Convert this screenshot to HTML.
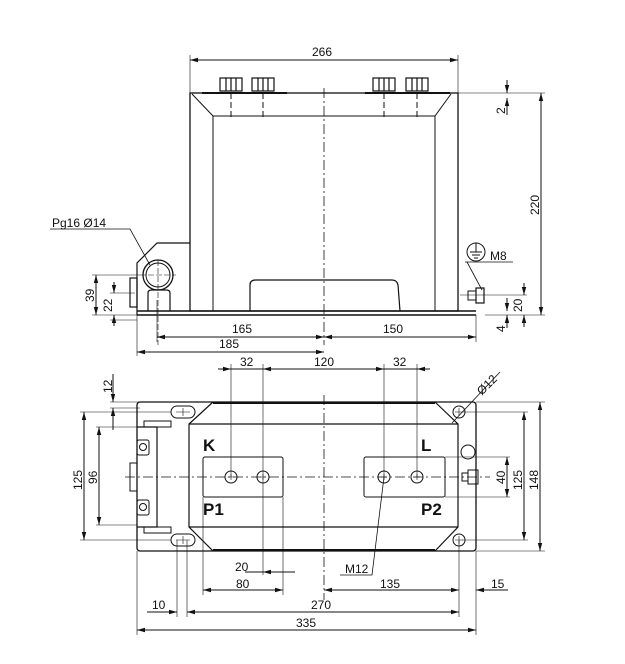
<!DOCTYPE html>
<html><head><style>body{margin:0;background:#fff}svg{display:block}text{font-family:"Liberation Sans",sans-serif;font-size:12px;fill:#111}</style></head><body>
<svg width="625" height="664" viewBox="0 0 625 664" xmlns="http://www.w3.org/2000/svg">
<defs><marker id="a" markerWidth="8" markerHeight="6" refX="8" refY="3" orient="auto-start-reverse"><path d="M0,0.8 L8,3 L0,5.2z" fill="#111"/></marker></defs>
<g stroke="#111" fill="none" stroke-width="1">
<!-- TOP VIEW -->
<line x1="190" y1="60" x2="458" y2="60" marker-start="url(#a)" marker-end="url(#a)"/>
<line x1="190" y1="55" x2="190" y2="93" stroke-width=".6"/><line x1="458" y1="55" x2="458" y2="93" stroke-width=".6"/>
<rect x="190" y="93" width="268" height="218" stroke-width="1.3"/>
<path d="M192 94 L213 116 L435 116 L451 94 M213 116 V311 M435 116 V311"/>
<path d="M202 93 h85 M365 93 h85" stroke-width="2"/>
<g stroke-width="1.2">
<rect x="220" y="78" width="22" height="13"/><rect x="252" y="78" width="22" height="13"/><rect x="373" y="78" width="22" height="13"/><rect x="406" y="78" width="22" height="13"/>
<path d="M226 78v13M231 78v13M236 78v13M258 78v13M263 78v13M268 78v13M379 78v13M384 78v13M389 78v13M412 78v13M417 78v13M422 78v13"/>
</g>
<path d="M231 93V118M263 93V118M384 93V118M417 93V118" stroke-dasharray="6,3"/>
<line x1="324" y1="88" x2="324" y2="345" stroke-dasharray="10,3,2,3" stroke-width=".8"/>
<path d="M250 311 V285 Q250 280 256 280 H392 Q397 280 398 285 L400 311" stroke-width="1.2"/>
<path d="M137 311 H476 M137 315 H476" stroke-width="1.5"/>
<path d="M137 315 V263 L157 243 H190" stroke-width="1.2"/>
<circle cx="158" cy="275" r="15" stroke-width="1.3"/><circle cx="158" cy="275" r="12"/>
<path d="M148 311 V293 Q148 290 152 290 H166 Q170 290 170 293 V311" stroke-width="1.2"/>
<rect x="130" y="278" width="7" height="29" stroke-width="1.2"/>
<path d="M140 275 H176 M158 260 V345" stroke-width=".6" stroke-dasharray="6,2"/>
<path d="M50 229 H130 L150 265" stroke-width=".8"/>
<path d="M92 275 H140 M92 315 H137 M110 293 H135 M110 320 H137" stroke-width=".6"/>
<line x1="96" y1="275" x2="96" y2="315" marker-start="url(#a)" marker-end="url(#a)"/>
<line x1="114" y1="282" x2="114" y2="293" marker-end="url(#a)"/><line x1="114" y1="326" x2="114" y2="315" marker-end="url(#a)"/>
<circle cx="476" cy="252" r="9"/><path d="M476 243v9M470 252h12M472 255h8M474 258h4"/>
<path d="M465 262 H513 M467 262 L482 290" stroke-width=".8"/>
<rect x="476" y="288" width="8" height="15" stroke-width="1.2"/><rect x="468" y="291" width="8" height="9"/>
<path d="M460 295 H527 M458 93 H545 M485 315 H545" stroke-width=".6"/>
<line x1="507" y1="80" x2="507" y2="93" marker-end="url(#a)"/><line x1="507" y1="115" x2="507" y2="98" marker-end="url(#a)"/>
<line x1="541" y1="93" x2="541" y2="315" marker-start="url(#a)" marker-end="url(#a)"/>
<line x1="524" y1="283" x2="524" y2="295" marker-end="url(#a)"/><line x1="524" y1="327" x2="524" y2="315" marker-end="url(#a)"/>
<line x1="507" y1="298" x2="507" y2="311" marker-end="url(#a)"/><line x1="507" y1="328" x2="507" y2="315" marker-end="url(#a)"/>
<path d="M157 300 V342 M137 315 V356 M476 315 V342" stroke-width=".6"/>
<line x1="157" y1="337" x2="324" y2="337" marker-start="url(#a)" marker-end="url(#a)"/>
<line x1="324" y1="337" x2="476" y2="337" marker-start="url(#a)" marker-end="url(#a)"/>
<line x1="137" y1="352" x2="324" y2="352" marker-start="url(#a)" marker-end="url(#a)"/>
<!-- BOTTOM VIEW -->
<path d="M231 364V477M263 364V575M384 364V477M417 364V477" stroke-width=".6"/>
<line x1="218" y1="369" x2="231" y2="369" marker-end="url(#a)"/><line x1="263" y1="369" x2="384" y2="369" marker-start="url(#a)" marker-end="url(#a)"/><line x1="430" y1="369" x2="417" y2="369" marker-end="url(#a)"/>
<line x1="231" y1="369" x2="263" y2="369"/><line x1="384" y1="369" x2="417" y2="369"/>
<rect x="137" y="402" width="339" height="149" rx="3" stroke-width="1.3"/>
<path d="M213 402 L189 424 V527 L213 551 M435 402 L458 424 V527 L435 551 M189 424 H458 M189 527 H458" stroke-width="1.2"/>
<path d="M213 403 H435 M213 550 H435" stroke-width="2"/>
<rect x="171" y="406" width="24" height="12" rx="6"/><rect x="171" y="534" width="24" height="12" rx="6"/>
<circle cx="459" cy="412" r="6"/><circle cx="459" cy="540" r="6"/>
<path d="M176 412h14M183 408v8M176 540h14M183 536v8M455 412h8M459 408v8M455 540h8M459 536v8" stroke-width=".6"/>
<path d="M137 427 H157 V527 H137 M157 427 V525" stroke-width="1.2"/>
<rect x="144" y="421" width="27" height="6"/><rect x="144" y="527" width="27" height="6"/>
<rect x="137" y="440" width="12" height="15" rx="2"/><rect x="137" y="500" width="12" height="15" rx="2"/>
<circle cx="143" cy="447" r="3.5"/><circle cx="143" cy="507" r="3.5"/>
<rect x="130" y="463" width="7" height="28"/>
<line x1="125" y1="477" x2="490" y2="477" stroke-dasharray="10,3,2,3" stroke-width=".8"/>
<line x1="324" y1="395" x2="324" y2="600" stroke-dasharray="10,3,2,3" stroke-width=".8"/>
<rect x="203" y="457" width="80" height="40" rx="2"/><rect x="364" y="457" width="81" height="40" rx="2"/>
<circle cx="231" cy="477" r="6"/><circle cx="263" cy="477" r="6"/><circle cx="384" cy="477" r="6"/><circle cx="417" cy="477" r="6"/>
<path d="M228 477h6M231 474v6M260 477h6M263 474v6M381 477h6M384 474v6M414 477h6M417 474v6" stroke-width=".6"/>
<circle cx="468" cy="452" r="7"/><rect x="468" y="470" width="10" height="14"/><rect x="462" y="473" width="6" height="8"/>
<path d="M500 372 L452 423" stroke-width=".8"/>
<path d="M80 412 H171 M80 540 H171 M96 427 H137 M96 525 H137 M110 402 H140 M110 408 H140 M462 412 H528 M462 540 H528 M476 402 H545 M476 551 H545 M445 457 H510 M445 497 H510" stroke-width=".6"/>
<line x1="84" y1="412" x2="84" y2="540" marker-start="url(#a)" marker-end="url(#a)"/>
<line x1="99" y1="427" x2="99" y2="525" marker-start="url(#a)" marker-end="url(#a)"/>
<line x1="113" y1="374" x2="113" y2="402" marker-end="url(#a)"/><line x1="113" y1="430" x2="113" y2="408" marker-end="url(#a)"/>
<line x1="507" y1="457" x2="507" y2="497" marker-start="url(#a)" marker-end="url(#a)"/>
<line x1="524" y1="412" x2="524" y2="540" marker-start="url(#a)" marker-end="url(#a)"/>
<line x1="540" y1="402" x2="540" y2="551" marker-start="url(#a)" marker-end="url(#a)"/>
<path d="M384 477 L372 575 H340" stroke-width=".8"/>
<path d="M203 497V595M283 497V595M177 540V617M187 540V617M459 540V617M476 551V635M137 551V635" stroke-width=".6"/>
<line x1="295" y1="572" x2="263" y2="572" marker-end="url(#a)"/><line x1="245" y1="572" x2="263" y2="572" />
<line x1="203" y1="590" x2="283" y2="590" marker-start="url(#a)" marker-end="url(#a)"/>
<line x1="324" y1="590" x2="459" y2="590" marker-start="url(#a)" marker-end="url(#a)"/>
<line x1="508" y1="590" x2="476" y2="590" marker-end="url(#a)"/>
<line x1="147" y1="612" x2="177" y2="612" marker-end="url(#a)"/>
<line x1="187" y1="612" x2="459" y2="612" marker-start="url(#a)" marker-end="url(#a)"/>
<line x1="137" y1="630" x2="476" y2="630" marker-start="url(#a)" marker-end="url(#a)"/>
</g>
<text x="312" y="56">266</text>
<text x="52" y="227">Pg16  Ø14</text>
<text x="490" y="260">M8</text>
<text x="232" y="333">165</text><text x="383" y="333">150</text><text x="219" y="348">185</text>
<g transform="rotate(-90)"><text x="-302" y="94">39</text><text x="-312" y="112">22</text><text x="-114" y="505">2</text><text x="-215" y="539">220</text><text x="-312" y="522">20</text><text x="-332" y="505">4</text>
<text x="-490" y="82">125</text><text x="-484" y="97">96</text><text x="-393" y="112">12</text><text x="-484" y="505">40</text><text x="-490" y="522">125</text><text x="-490" y="538">148</text></g>
<text x="240" y="366">32</text><text x="314" y="366">120</text><text x="393" y="366">32</text>
<text x="474" y="389" transform="rotate(-45 486 383)">Ø12</text>
<g style="font-weight:bold;font-size:17px"><text x="203" y="451" style="font-weight:bold;font-size:17px">K</text><text x="421" y="451" style="font-weight:bold;font-size:17px">L</text><text x="203" y="515" style="font-weight:bold;font-size:17px">P1</text><text x="421" y="515" style="font-weight:bold;font-size:17px">P2</text></g>
<text x="235" y="571">20</text><text x="236" y="588">80</text><text x="345" y="573">M12</text><text x="380" y="588">135</text><text x="491" y="588">15</text>
<text x="152" y="609">10</text><text x="311" y="609">270</text><text x="296" y="627">335</text>
</svg>
</body></html>
